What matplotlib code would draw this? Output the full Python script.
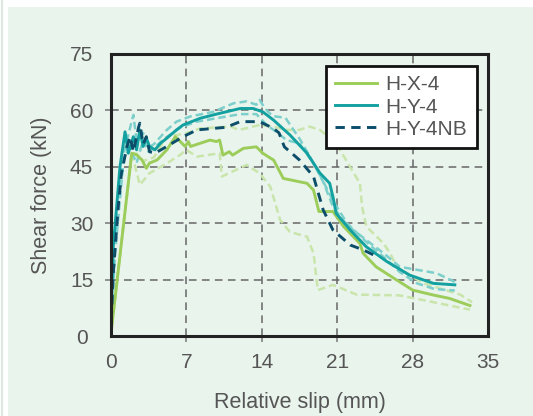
import matplotlib.pyplot as plt
from matplotlib.patches import Rectangle
from matplotlib.lines import Line2D

plt.rcParams['font.family'] = ['Liberation Sans', 'DejaVu Sans']

# H-X-4 (mean curve and the two specimen curves)
hx4_x = [0, 1.95, 2.4, 2.9, 3.3, 3.6, 4.3, 5.2, 6.0, 6.9, 7.2, 7.4, 9.2, 9.8, 10.1, 10.4, 11.0, 11.3,
         12.3, 13.5, 14.1, 14.8, 15.1, 16.0, 18.2, 18.8, 19.3, 20.6, 21.6, 23.1, 23.4, 24.6, 26.5,
         28.0, 29.9, 31.4, 33.3]
hx4_y = [0, 48.6, 48.2, 46.8, 44.6, 46.0, 46.8, 49.5, 53.0, 50.4, 51.7, 50.4, 52.1, 51.7, 52.1, 48.1,
         49.0, 48.1, 49.9, 50.3, 48.6, 47.3, 46.8, 41.9, 40.6, 38.8, 33.1, 33.1, 29.1, 24.6, 22.0,
         18.4, 14.9, 12.2, 10.9, 10.0, 8.1]
hx4a_x = [0, 1.95, 2.4, 3.0, 4.0, 5.2, 7.0, 8.3, 11.1, 11.9, 13.8, 15.0, 16.3, 17.5, 18.4, 19.4,
          20.9, 23.1, 23.3, 23.7, 25.3, 25.9, 26.5, 29.0, 32.4, 33.5]
hx4a_y = [0, 48.6, 48.5, 46.5, 47.5, 53.0, 53.9, 55.2, 55.7, 54.8, 56.1, 55.7, 54.8, 54.8, 55.7,
          54.8, 51.2, 40.6, 34.4, 29.1, 24.6, 22.0, 18.4, 14.0, 11.0, 9.0]
hx4b_x = [0, 1.95, 2.7, 3.6, 5.2, 6.4, 7.0, 8.0, 10.1, 10.3, 12.6, 13.8, 14.8, 15.7, 16.6, 18.2,
          18.8, 19.2, 20.6, 22.8, 26.8, 29.9, 33.3]
hx4b_y = [0, 48.6, 40.2, 43.3, 45.9, 48.1, 49.5, 47.7, 48.6, 42.4, 45.5, 43.3, 39.7, 30.9, 27.7,
          26.4, 22.0, 12.2, 13.6, 11.0, 10.8, 9.0, 7.0]

# H-Y-4
hy4_x = [0, 0.24, 0.86, 1.33, 1.63, 2.1, 2.4, 2.7, 3.0, 3.3, 3.6, 4.1, 4.6, 5.2, 6.1, 6.7, 8.3,
         9.8, 12.0, 13.2, 14.1, 15.1, 16.6, 18.2, 19.4, 20.3, 20.6, 20.9, 22.2, 23.7, 25.6, 27.7,
         29.9, 31.9]
hy4_y = [0, 23.8, 45.0, 54.3, 48.6, 53.0, 49.5, 54.8, 50.4, 52.6, 50.4, 49.5, 51.2, 52.6, 54.8,
         56.1, 57.9, 59.0, 60.5, 60.5, 59.6, 57.4, 53.5, 48.6, 43.3, 40.6, 37.0, 32.6, 28.2, 23.7,
         19.8, 16.2, 14.0, 13.6]
hy4a_x = [0, 0.3, 1.0, 1.5, 2.1, 2.4, 3.0, 3.5, 4.0, 5.2, 6.1, 7.4, 9.5, 11.4, 12.6, 13.5, 13.8,
          14.3, 15.0, 16.2, 17.5, 18.5, 19.7, 20.6, 21.9, 23.7, 25.3, 26.8, 28.4, 30.2, 31.9]
hy4a_y = [0, 25, 46, 52, 58.8, 52, 54, 50, 51, 54.8, 57, 58.4, 59.6, 61.9, 62.4, 61.5, 62.8, 60.5,
          58.5, 58.0, 52.5, 47.5, 41.0, 34.4, 29.5, 25.5, 22.0, 18.4, 17.6, 16.7, 14.4]
hy4b_x = [0, 0.4, 1.2, 1.8, 2.4, 3.0, 3.5, 4.0, 5.0, 6.5, 8.0, 10.0, 12.0, 13.5, 14.5, 15.1, 16.3,
          17.5, 19.0, 20.6, 21.9, 23.7, 25.3, 26.8, 28.4, 30.0, 31.9]
hy4b_y = [0, 22, 47, 50, 46, 52, 49, 50, 52.5, 55.5, 57, 58, 59, 59, 56, 54.8, 52.1, 51.2, 45, 36,
          30, 25, 21, 17, 14, 12.5, 12.1]

# H-Y-4NB
hy4nb_x = [0, 0.05, 0.24, 0.7, 1.0, 1.5, 1.8, 2.1, 2.6, 2.7, 3.0, 3.3, 3.6, 4.1, 5.2, 6.7, 8.0,
           9.5, 10.7, 12.0, 13.8, 15.1, 15.6, 16.1, 17.5, 18.8, 19.7, 20.6, 22.2, 23.4, 24.7]
hy4nb_y = [0, 4, 16.7, 34.4, 43.3, 50.3, 53.0, 49.0, 55.7, 56.6, 51, 53, 49, 48.6, 50.4, 53, 54.8,
           55.2, 55.5, 57, 57, 55.2, 54.0, 50.3, 46.8, 42.4, 33.5, 28.2, 24.2, 22.9, 21.1]

labels = ['H-X-4', 'H-Y-4', 'H-Y-4NB']
xticks = [0, 7, 14, 21, 28, 35]
yticks = [0, 15, 30, 45, 60, 75]

bg = '#e9f4ec'
green = '#9ccd5b'
green_pale = '#c9e5ab'
teal = '#13a0a0'
teal_pale = '#7ccfcb'
navy = '#0c4e6a'
txt = '#555555'

fig = plt.figure(figsize=(5.33, 4.16), dpi=100)
fig.patch.set_facecolor('white')
fig.patches.append(Rectangle((8 / 533, 0), 1.1, 1 - 7 / 416, transform=fig.transFigure,
                             facecolor=bg, edgecolor='none', zorder=-10))
fig.lines.append(Line2D([1.5 / 533, 1.5 / 533], [0, 1], transform=fig.transFigure,
                        color='#dde6df', lw=1.5, zorder=-10))

ax = fig.add_axes([0.2077, 0.1923, 0.7084, 0.678])
ax.set_facecolor(bg)

ax.plot(hx4a_x, hx4a_y, color=green_pale, lw=1.8, dashes=(3, 1.6))
ax.plot(hx4b_x, hx4b_y, color=green_pale, lw=1.8, dashes=(3, 1.6))
ax.plot(hy4a_x, hy4a_y, color=teal_pale, lw=1.8, dashes=(3, 1.6))
ax.plot(hy4b_x, hy4b_y, color=teal_pale, lw=1.8, dashes=(3, 1.6))
ax.plot(hx4_x, hx4_y, color=green, lw=2.1, label=labels[0])
ax.plot(hy4_x, hy4_y, color=teal, lw=2.1, label=labels[1])
ax.plot(hy4nb_x, hy4nb_y, color=navy, lw=2.1, dashes=(3.2, 2.2), label=labels[2])

ax.set_xlim(0, 35)
ax.set_ylim(0, 75)
ax.set_xticks(xticks)
ax.set_yticks(yticks)
ax.tick_params(length=4, width=1.1, color='#777777', labelsize=15, labelcolor=txt)
ax.tick_params(axis='x', pad=8.5)
ax.tick_params(axis='y', pad=17)
for lab in ax.get_yticklabels():
    lab.set_horizontalalignment('center')
# no tick marks at the corners
for t in (ax.xaxis.get_major_ticks()[0], ax.xaxis.get_major_ticks()[-1],
          ax.yaxis.get_major_ticks()[0], ax.yaxis.get_major_ticks()[-1]):
    t.tick1line.set_visible(False)
ax.grid(True, color='#666666', lw=1.1, dashes=(5, 3.5))
ax.set_axisbelow(True)
for s in ax.spines.values():
    s.set_linewidth(2.2)
    s.set_color('#222222')

ax.set_xlabel('Relative slip (mm)', fontsize=15.5, color=txt, labelpad=14)
ax.set_ylabel('Shear force (kN)', fontsize=15.5, color=txt, labelpad=13)

leg = ax.legend(loc='upper right', bbox_to_anchor=(0.969, 0.957), borderaxespad=0,
                fontsize=15, frameon=True, fancybox=False, handlelength=2.0,
                handletextpad=0.4, labelspacing=0.15, borderpad=0.45)
leg.get_frame().set_edgecolor('#111111')
leg.get_frame().set_linewidth(2)
leg.get_frame().set_facecolor('white')
leg.get_frame().set_alpha(1)
for t in leg.get_texts():
    t.set_color(txt)

fig.savefig('out.png', dpi=100, facecolor=fig.get_facecolor())
